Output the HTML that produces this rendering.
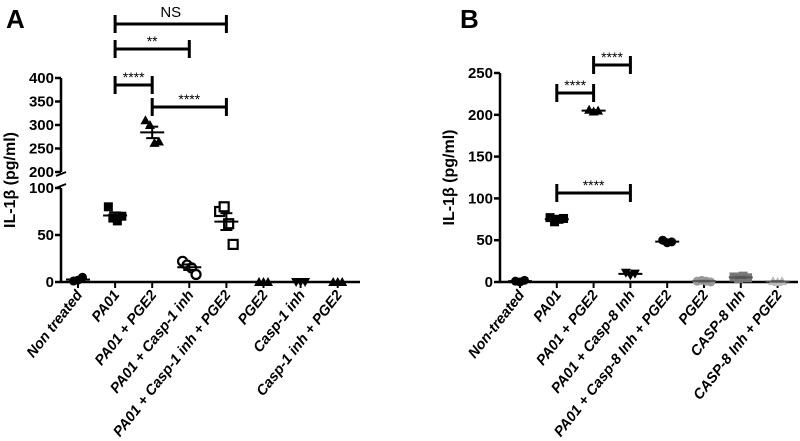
<!DOCTYPE html>
<html><head><meta charset="utf-8">
<style>
html,body{margin:0;padding:0;background:#fff;}
svg{display:block;font-family:"Liberation Sans",sans-serif;}
.lab{font-weight:bold;font-style:italic;font-size:14.5px;}
.tick{font-weight:bold;font-size:15px;}
</style></head>
<body>
<svg id="chart" width="800" height="441" viewBox="0 0 800 441">
<text x="6" y="28" font-size="26" font-weight="bold">A</text>
<text x="460" y="28" font-size="26" font-weight="bold">B</text>
<g id="ga"></g>
<g id="gb"></g>
</svg>
<script>
const catsA=["Non treated","PA01","PA01 + PGE2","PA01 + Casp-1 inh","PA01 + Casp-1 inh + PGE2","PGE2","Casp-1 inh","Casp-1 inh + PGE2"];
const valsA=[[1,2,5],[80,68,65,70],[310,300,262,265],[22,18,15,8],[75,80,62,40],[0,0,0],[0,0,0],[0,0,0]];
const shapesA=["circle","square","triangle","circle-open","square-open","triangle","tri-down","triangle"];
const catsB=["Non-treated","PA01","PA01 + PGE2","PA01 + Casp-8 Inh","PA01 + Casp-8 Inh + PGE2","PGE2","CASP-8 Inh","CASP-8 Inh + PGE2"];
const valsB=[[1,0,2],[77,72,75,76],[206,204,205],[11,8,10],[50,47,48],[1,2,1,0],[6,4,7,5],[1,0,1]];
const ticksAlow=[0,50,100];
const ticksAhigh=[200,250,300,350,400];
const ticksB=[0,50,100,150,200,250];
const sigA=[["NS",1,4,24],["**",1,3,49],["****",1,2,85],["****",2,4,107]];
const sigB=[["****",2,3,65],["****",1,2,93],["****",1,3,193]];
const NS="http://www.w3.org/2000/svg";
function el(p,t,a){const e=document.createElementNS(NS,t);for(const k in a)e.setAttribute(k,a[k]);p.appendChild(e);return e;}
const xA=i=>78+i*37.1;
const yA=v=>v<=100?282-v*0.94:172-(v-200)*0.47;
const xB=i=>520+i*36.8;
const yB=v=>282-v*0.836;
function marker(g,sh,x,y,col){
  let m;
  if(sh.startsWith("circle")) m=el(g,"circle",{cx:x,cy:y,r:4.5});
  else if(sh.startsWith("square")) m=el(g,"rect",{x:x-4.5,y:y-4.5,width:9,height:9});
  else if(sh=="triangle") m=el(g,"polygon",{points:`${x},${y-5} ${x-5},${y+4} ${x+5},${y+4}`});
  else m=el(g,"polygon",{points:`${x},${y+5} ${x-5},${y-4} ${x+5},${y-4}`});
  if(sh.endsWith("open")){m.setAttribute("fill","#fff");m.setAttribute("stroke","#000");m.setAttribute("stroke-width","2.2");}
  else m.setAttribute("fill",col);
  
  
}
function panel(g,cats,vals,shapes,xf,yf,axX,axEnd,ticks,sig,cols){
  const ax=el(g,"line",{x1:axX,y1:282,x2:axEnd,y2:282,stroke:"#000","stroke-width":2.5});
  
  ticks.forEach(seg=>{
    const ys=seg.map(yf);
    const yl=el(g,"line",{x1:axX,y1:Math.min(...ys),x2:axX,y2:Math.max(...ys),stroke:"#000","stroke-width":2.5});
    
    seg.forEach(t=>{
      el(g,"line",{x1:axX-6,y1:yf(t),x2:axX,y2:yf(t),stroke:"#000","stroke-width":2.5});
      const tx=el(g,"text",{x:axX-7,y:yf(t)+5,"text-anchor":"end",class:"tick"});tx.textContent=t;
      
    });
  });
  const yt=el(g,"text",{transform:`translate(${axX-46},${(Math.min(...ticks.flat().map(yf))+282)/2}) rotate(-90)`,"text-anchor":"middle","font-weight":"bold","font-size":"16"});
  yt.textContent="IL-1β (pg/ml)";
  
  cats.forEach((c,i)=>{
    const x=xf(i);
    el(g,"line",{x1:x,y1:282,x2:x,y2:288,stroke:"#000","stroke-width":2});
    const t=el(g,"text",{transform:`translate(${x+5},${295}) rotate(-52)`,"text-anchor":"end",class:"lab"});
    t.textContent=c;
    
    const v=vals[i];const col=cols?cols[i]:"#000";
    v.forEach((d,j)=>marker(g,shapes[i],x+(j-(v.length-1)/2)*4.5,yf(d),col));
    const mean=v.reduce((a,b)=>a+b,0)/v.length;
    const sd=Math.sqrt(v.reduce((a,b)=>a+(b-mean)**2,0)/(v.length-1))/Math.sqrt(v.length);
    const mc=col=="#000"?"#000":"#555";
    el(g,"line",{x1:x-12,y1:yf(mean),x2:x+12,y2:yf(mean),stroke:mc,"stroke-width":2});
    el(g,"line",{x1:x,y1:yf(mean+sd),x2:x,y2:yf(mean-sd),stroke:mc,"stroke-width":2});
    el(g,"line",{x1:x-6,y1:yf(mean+sd),x2:x+6,y2:yf(mean+sd),stroke:mc,"stroke-width":2});
    el(g,"line",{x1:x-6,y1:yf(mean-sd),x2:x+6,y2:yf(mean-sd),stroke:mc,"stroke-width":2});
  });
  sig.forEach(s=>{
    const x1=xf(s[1]),x2=xf(s[2]),y=s[3];
    const b=el(g,"g",{});
    el(b,"line",{x1:x1,y1:y,x2:x2,y2:y,stroke:"#000","stroke-width":3});
    el(b,"line",{x1:x1,y1:y-9,x2:x1,y2:y+9,stroke:"#000","stroke-width":3});
    el(b,"line",{x1:x2,y1:y-9,x2:x2,y2:y+9,stroke:"#000","stroke-width":3});
    const t=el(b,"text",{x:(x1+x2)/2,y:s[0]=="NS"?y-7:y-3,"text-anchor":"middle","font-size":s[0]=="NS"?15:14});
    t.textContent=s[0];
  });
}
panel(document.getElementById("ga"),catsA,valsA,shapesA,xA,yA,61,360,[ticksAlow,ticksAhigh],sigA,null);
panel(document.getElementById("gb"),catsB,valsB,["circle","square","triangle","tri-down","circle","circle","square","triangle"],xB,yB,500,798,[ticksB],sigB,["#000","#000","#000","#000","#000","#999","#777","#bbb"]);
const ga=document.getElementById("ga");
el(ga,"rect",{x:55,y:175,width:12,height:10,fill:"#fff"});
el(ga,"line",{x1:56,y1:176,x2:66,y2:172,stroke:"#000","stroke-width":2});
el(ga,"line",{x1:56,y1:188,x2:66,y2:184,stroke:"#000","stroke-width":2});
</script>
</body></html>
